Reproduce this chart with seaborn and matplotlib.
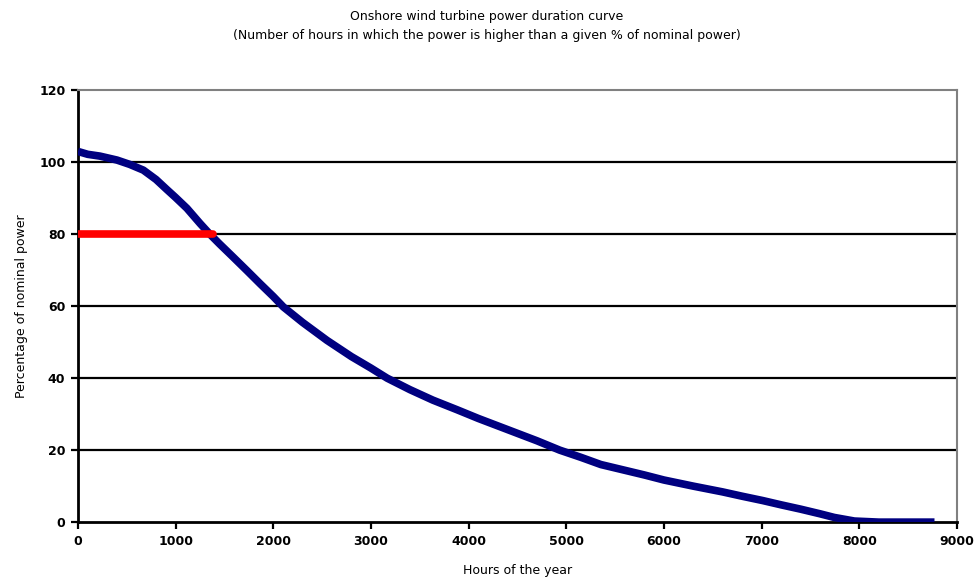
import matplotlib
matplotlib.use("Agg")
import matplotlib.pyplot as plt
import seaborn as sns
import pandas as pd

# Data
hours = [0, 100, 225, 400, 530, 670, 800, 911, 1000, 1116, 1250, 1351, 1450,
         1587, 1730, 1867, 2000, 2103, 2300, 2550, 2800, 3000, 3166, 3400,
         3634, 3884, 4100, 4400, 4700, 4933, 5150, 5354, 5600, 5800, 6000,
         6300, 6600, 6800, 7010, 7200, 7400, 7600, 7744, 7950, 8200, 8500,
         8770]
percent = [103, 102.2, 101.7, 100.6, 99.4, 97.8, 95.2, 92.4, 90.2, 87.2, 83.0,
           80.0, 77.3, 73.7, 69.9, 66.2, 62.7, 59.8, 55.5, 50.5, 46.0, 42.8,
           40.0, 36.8, 33.9, 31.2, 28.8, 25.7, 22.6, 20.0, 18.0, 16.0, 14.4,
           13.1, 11.7, 10.0, 8.4, 7.2, 6.0, 4.8, 3.6, 2.3, 1.3, 0.3, 0.0, 0.0,
           0.0]
marker_hours = [0, 1380]
marker_percent = [80, 80]

title_text = ("Onshore wind turbine power duration curve\n"
              "(Number of hours in which the power is higher than a given % of nominal power)")
x_label = "Hours of the year"
y_label = "Percentage of nominal power"
x_ticks = [0, 1000, 2000, 3000, 4000, 5000, 6000, 7000, 8000, 9000]
y_ticks = [0, 20, 40, 60, 80, 100, 120]

sns.set_theme(style="white")
plt.rcParams['font.family'] = ['DejaVu Sans']
plt.rcParams['text.color'] = 'black'
plt.rcParams['axes.labelcolor'] = 'black'
plt.rcParams['xtick.color'] = 'black'
plt.rcParams['ytick.color'] = 'black'

fig = plt.figure(figsize=(9.74, 5.86), dpi=100)
ax = fig.add_axes([0.080, 0.109, 0.9025, 0.737])

for yv in [20, 40, 60, 80, 100]:
    ax.axhline(yv, color="black", lw=1.6, zorder=1)

df = pd.DataFrame({"hours": hours, "percent": percent})
sns.lineplot(data=df, x="hours", y="percent", ax=ax, color="#000080",
             lw=5.5, zorder=3, solid_capstyle="butt", solid_joinstyle="round")
dm = pd.DataFrame({"hours": marker_hours, "percent": marker_percent})
sns.lineplot(data=dm, x="hours", y="percent", ax=ax, color="#ff0000",
             lw=5.5, zorder=4, solid_capstyle="round")

ax.set_xlim(0, 9000)
ax.set_ylim(0, 120)
ax.set_xticks(x_ticks)
ax.set_yticks(y_ticks)
ax.set_xticklabels([str(t) for t in x_ticks], fontsize=9, fontweight="bold")
ax.set_yticklabels([str(t) for t in y_ticks], fontsize=9, fontweight="bold")
ax.tick_params(axis="both", direction="out", length=5, width=1.6, color="black",
               bottom=True, left=True, pad=4)
ax.set_xlabel(x_label, fontsize=9, labelpad=12)
ax.set_ylabel(y_label, fontsize=9, labelpad=8)

for s in ["left", "bottom"]:
    ax.spines[s].set_color("black")
    ax.spines[s].set_linewidth(2)
for s in ["top", "right"]:
    ax.spines[s].set_color("#808080")
    ax.spines[s].set_linewidth(1.5)

fig.text(0.5, 0.955, title_text, ha="center", va="center", fontsize=9,
         linespacing=1.6)

fig.savefig("out.png", dpi=100, facecolor="white")
